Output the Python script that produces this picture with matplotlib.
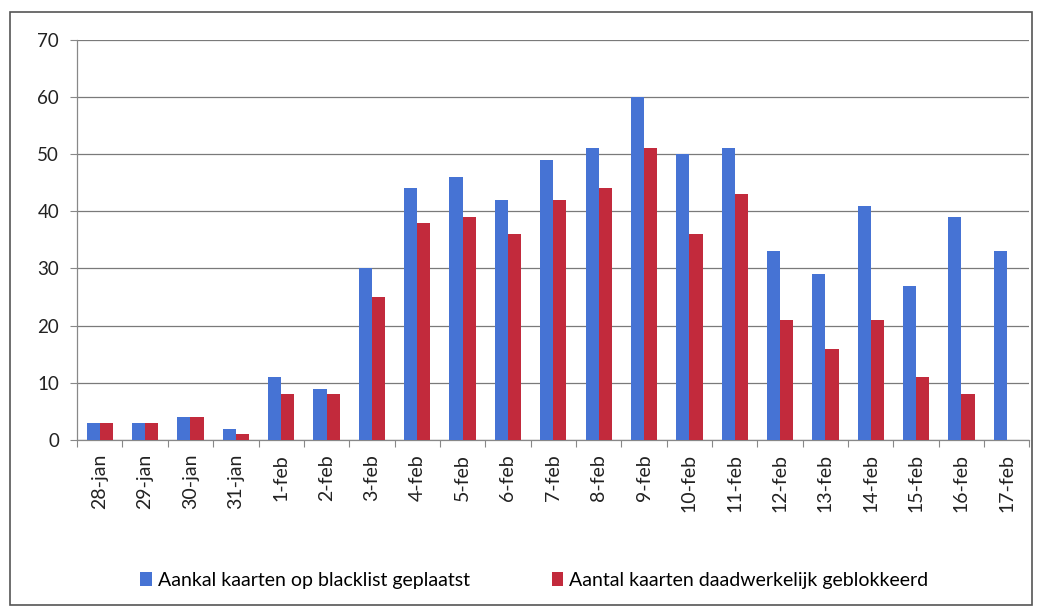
import numpy as np
import matplotlib
matplotlib.use("Agg")
import matplotlib.pyplot as plt
from matplotlib.patches import Rectangle

# ---------------------------------------------------------------------------
# Data
# ---------------------------------------------------------------------------
DAYS = ["28-jan", "29-jan", "30-jan", "31-jan", "1-feb", "2-feb", "3-feb",
        "4-feb", "5-feb", "6-feb", "7-feb", "8-feb", "9-feb", "10-feb",
        "11-feb", "12-feb", "13-feb", "14-feb", "15-feb", "16-feb", "17-feb"]
BLACKLIST = [3, 3, 4, 2, 11, 9, 30, 44, 46, 42, 49, 51, 60, 50, 51, 33, 29,
             41, 27, 39, 33]
BLOCKED = [3, 3, 4, 1, 8, 8, 25, 38, 39, 36, 42, 44, 51, 36, 43, 21, 16, 21,
           11, 8, 0]

LABEL_BLUE = "Aankal kaarten op blacklist geplaatst"
LABEL_RED = "Aantal kaarten daadwerkelijk geblokkeerd"

BLUE = "#4673d4"
RED = "#c22a3c"

plt.rcParams["font.family"] = ["Lato", "DejaVu Sans"]

fig = plt.figure(figsize=(10.42, 6.12), dpi=100)
ax = fig.add_axes([0.074, 0.281, 0.914, 0.654])

x = np.arange(len(DAYS))
w = 0.29
ax.bar(x - w / 2, BLACKLIST, width=w, color=BLUE, label=LABEL_BLUE, zorder=3)
ax.bar(x + w / 2, BLOCKED, width=w, color=RED, label=LABEL_RED, zorder=3)

ax.set_xlim(-0.5, len(DAYS) - 0.5)
ax.set_ylim(0, 70)
ax.set_yticks(range(0, 71, 10))
ax.yaxis.grid(True, color="#7a7a7a", linewidth=0.9, zorder=0)
ax.set_axisbelow(True)

ax.set_xticks(x)
ax.set_xticklabels(DAYS, rotation=90, fontsize=14, color="#222222")
ax.set_xticks(np.arange(-0.5, len(DAYS)), minor=True)
ax.tick_params(axis="x", which="major", length=0, pad=10)
ax.tick_params(axis="x", which="minor", length=5, width=0.8, color="#888888")
ax.tick_params(axis="y", length=5, width=0.8, color="#888888",
               labelsize=13.5, labelcolor="#222222", pad=8)

for side in ("top", "right"):
    ax.spines[side].set_visible(False)
for side in ("left", "bottom"):
    ax.spines[side].set_color("#888888")
    ax.spines[side].set_linewidth(0.9)

ax.legend(loc="center", bbox_to_anchor=(0.48, -0.35), ncol=2,
          frameon=False, fontsize=14, handlelength=0.6, handleheight=0.7,
          handletextpad=0.3, columnspacing=4.2)

# outer chart frame
fig.patches.append(Rectangle((0.010, 0.012), 0.980, 0.968,
                             transform=fig.transFigure, fill=False,
                             edgecolor="#555555", linewidth=1.2))

fig.savefig("out.png", dpi=100)
